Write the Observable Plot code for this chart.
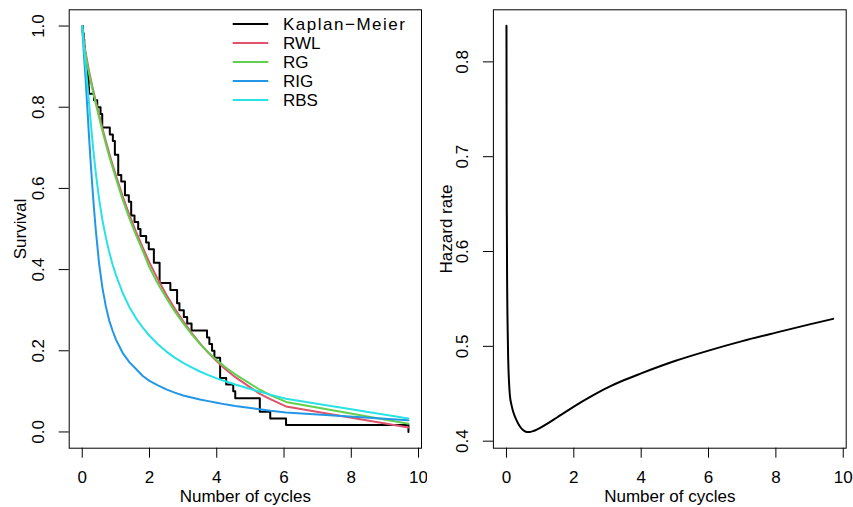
<!DOCTYPE html>
<html><head><meta charset="utf-8">
<script src="https://cdn.jsdelivr.net/npm/d3@7"></script>
<script src="https://cdn.jsdelivr.net/npm/@observablehq/plot@0.6"></script>
<style>
html,body{margin:0;padding:0;background:#fff;}
#wrap{position:relative;width:853px;height:507px;display:flex;font-family:"Liberation Sans",Arial,Helvetica,sans-serif;}
#legend{position:absolute;left:0;top:0;pointer-events:none;}
</style></head><body><div id="wrap"></div>
<script>
// Kaplan-Meier step data (time, survival after the step)
const kmTimes = [0, 0.02, 0.04, 0.06, 0.08, 0.10, 0.12, 0.14, 0.17, 0.19, 0.20, 0.35, 0.445, 0.544, 0.594, 0.82, 0.91, 0.97, 1.07, 1.16, 1.27, 1.385, 1.455, 1.554, 1.664, 1.732, 1.90, 1.979, 2.13, 2.30, 2.62, 2.82, 2.89, 3.02, 3.12, 3.25, 3.71, 3.78, 3.86, 3.93, 4.10, 4.28, 4.49, 4.55, 5.28, 5.59, 6.06, 9.70];
const kmSurv  = [1.0, 0.983, 0.967, 0.95, 0.933, 0.917, 0.9, 0.883, 0.867, 0.85, 0.833, 0.817, 0.8, 0.783, 0.75, 0.733, 0.717, 0.683, 0.633, 0.617, 0.583, 0.567, 0.533, 0.517, 0.5, 0.483, 0.467, 0.45, 0.417, 0.367, 0.35, 0.317, 0.3, 0.283, 0.267, 0.25, 0.233, 0.217, 0.2, 0.183, 0.133, 0.117, 0.1, 0.083, 0.05, 0.033, 0.017, 0.0];

// fitted survival curves
const curveX = [0, 0.02, 0.05, 0.1, 0.15, 0.2, 0.25, 0.3, 0.35, 0.4, 0.5, 0.6, 0.7, 0.8, 0.9, 1.0, 1.2, 1.4, 1.6, 1.8, 2.0, 2.25, 2.5, 2.75, 3.0, 3.25, 3.5, 3.75, 4.0, 4.25, 4.55, 5.28, 5.59, 6.06, 9.7];
const rwl = [1.0, 0.98, 0.96, 0.935, 0.912, 0.89, 0.87, 0.851, 0.833, 0.815, 0.781, 0.748, 0.717, 0.687, 0.659, 0.632, 0.581, 0.535, 0.493, 0.454, 0.417, 0.376, 0.338, 0.304, 0.273, 0.244, 0.218, 0.195, 0.174, 0.155, 0.135, 0.094, 0.081, 0.063, 0.011];
const rg  = [1.0, 0.975, 0.955, 0.93, 0.905, 0.885, 0.865, 0.846, 0.828, 0.81, 0.775, 0.742, 0.71, 0.68, 0.652, 0.625, 0.573, 0.527, 0.485, 0.446, 0.405, 0.365, 0.33, 0.297, 0.268, 0.241, 0.217, 0.196, 0.177, 0.16, 0.142, 0.104, 0.091, 0.074, 0.02];
const rig = [1.0, 0.97, 0.93, 0.87, 0.80, 0.73, 0.665, 0.605, 0.55, 0.5, 0.415, 0.355, 0.31, 0.275, 0.25, 0.228, 0.195, 0.172, 0.155, 0.138, 0.126, 0.115, 0.105, 0.097, 0.09, 0.085, 0.08, 0.076, 0.072, 0.068, 0.064, 0.056, 0.052, 0.048, 0.029];
const rbs = [1.0, 0.98, 0.95, 0.905, 0.858, 0.812, 0.765, 0.72, 0.678, 0.64, 0.575, 0.522, 0.48, 0.444, 0.413, 0.387, 0.343, 0.308, 0.28, 0.257, 0.237, 0.216, 0.198, 0.183, 0.17, 0.159, 0.149, 0.14, 0.132, 0.125, 0.117, 0.099, 0.092, 0.082, 0.033];

// hazard rate curve
const hazX = [0, 0.005, 0.01, 0.02, 0.03, 0.05, 0.075, 0.1, 0.15, 0.2, 0.3, 0.4, 0.5, 0.6, 0.7, 0.8, 0.9, 1.0, 1.25, 1.5, 2, 2.5, 3, 3.5, 4, 5, 6, 7, 8, 9, 9.7];
const hazY = [0.838, 0.72, 0.64, 0.565, 0.53, 0.488, 0.463, 0.449, 0.438, 0.431, 0.422, 0.4155, 0.4115, 0.4097, 0.4098, 0.4107, 0.4122, 0.414, 0.4192, 0.425, 0.4365, 0.447, 0.4565, 0.4645, 0.4715, 0.4845, 0.4955, 0.5055, 0.5145, 0.5232, 0.529];

const seriesNames = ["Kaplan\u2212Meier", "RWL", "RG", "RIG", "RBS"];
const seriesColors = ["#000000", "#DF536B", "#61D04F", "#2297E6", "#28E2E5"];
const xTicks = [0, 2, 4, 6, 8, 10];
const yTicksLeft = [0, 0.2, 0.4, 0.6, 0.8, 1.0];
const yTicksRight = [0.4, 0.5, 0.6, 0.7, 0.8];

const FONT = "Liberation Sans, Arial, Helvetica, sans-serif";
const FS = 17;
const km = kmTimes.map((t, i) => ({x: t, y: kmSurv[i]}));
const fits = [rwl, rg, rig, rbs].flatMap((arr, k) =>
  arr.map((v, i) => ({x: curveX[i], y: v, s: seriesNames[k + 1]})));
const haz = hazX.map((t, i) => ({x: t, y: hazY[i]}));

const centered = {textAnchor: "middle", lineAnchor: "middle", fontSize: FS, fill: "#000"};

function commonMarks(yTicks, ylabel, ydx) {
  return [
    Plot.frame({stroke: "#000", strokeWidth: 1}),
    Plot.axisX({ticks: xTicks, tickSize: 10, tickFormat: () => "", label: null, stroke: "#000"}),
    Plot.axisY({ticks: yTicks, tickSize: 10, tickFormat: () => "", label: null, stroke: "#000"}),
    Plot.text(xTicks, {x: d => d, text: d => String(d), frameAnchor: "bottom", dy: 29, ...centered}),
    Plot.text(yTicks, {y: d => d, text: d => d.toFixed(1), frameAnchor: "left", dx: -30.5, rotate: -90, ...centered}),
    Plot.text(["Number of cycles"], {text: d => d, frameAnchor: "bottom", dy: 48.5, ...centered}),
    Plot.text([ylabel], {text: d => d, frameAnchor: "left", dx: ydx, rotate: -90, ...centered})
  ];
}

const left = Plot.plot({
  width: 427, height: 507,
  marginLeft: 68.7, marginRight: 6, marginTop: 9.3, marginBottom: 59.3,
  style: {fontFamily: FONT, fontSize: FS + "px", background: "white", color: "#000", overflow: "visible"},
  x: {domain: [-0.388, 10.088], axis: null},
  y: {domain: [-0.04, 1.04], axis: null},
  color: {domain: seriesNames, range: seriesColors},
  marks: [
    ...commonMarks(yTicksLeft, "Survival", -49),
    Plot.line(km, {x: "x", y: "y", curve: "step-after", stroke: "#000", strokeWidth: 2}),
    Plot.line(fits, {x: "x", y: "y", z: "s", stroke: "s", strokeWidth: 2})
  ]
});

const right = Plot.plot({
  width: 426, height: 507,
  marginLeft: 65.9, marginRight: 7.3, marginTop: 9.3, marginBottom: 59.3,
  style: {fontFamily: FONT, fontSize: FS + "px", background: "white", color: "#000", overflow: "visible"},
  x: {domain: [-0.388, 10.088], axis: null},
  y: {domain: [0.3926, 0.8549], axis: null},
  marks: [
    ...commonMarks(yTicksRight, "Hazard rate", -46.5),
    Plot.line(haz, {x: "x", y: "y", curve: "monotone-x", stroke: "#000", strokeWidth: 2})
  ]
});

const wrap = document.getElementById("wrap");
wrap.appendChild(left);
wrap.appendChild(right);

// legend (top-right of left panel)
const leg = d3.select(wrap).append("svg").attr("id", "legend")
  .attr("width", 427).attr("height", 130);
seriesNames.forEach((name, i) => {
  const yy = 24 + 19 * i;
  leg.append("line").attr("x1", 232.7).attr("x2", 268.3).attr("y1", yy).attr("y2", yy)
    .attr("stroke", seriesColors[i]).attr("stroke-width", 2);
  const t = leg.append("text").attr("x", 283).attr("y", yy).attr("dy", "0.35em")
    .attr("font-family", FONT).attr("font-size", FS).attr("fill", "#000").text(name);
  if (i === 0) t.attr("textLength", 122).attr("lengthAdjust", "spacing");
});
</script>
</body></html>
